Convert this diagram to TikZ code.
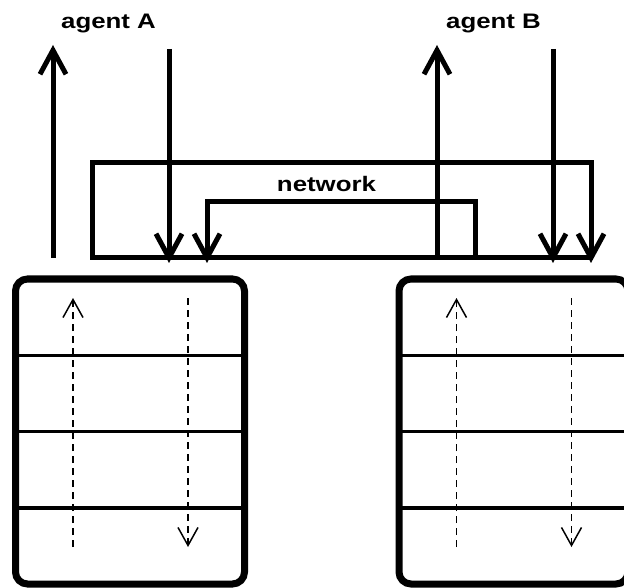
\documentclass[tikz,border=0pt]{standalone}
\usepackage{graphicx}
\usepackage{fontspec}
\setmainfont{Liberation Sans}
\usetikzlibrary{arrows.meta}
\usetikzlibrary{positioning}
\usetikzlibrary{calc}

\newcommand{\stretched}[1]{\scalebox{1.23}[1]{#1}}

\tikzset{
  stack/.style={draw, line width=7pt, rounded corners=12pt, minimum width=229pt,
    minimum height=305pt, inner sep=0pt, outer sep=0pt},
  divider/.style={line width=3.5pt},
  wire/.style={line width=5pt},
  flow/.style={line width=5pt, -{Straight Barb[length=24pt,width=26pt]}},
  trace/.style={line width=1.5pt, dash pattern=on 7pt off 5pt,
    -{Straight Barb[length=18pt,width=20pt]}},
  lbl/.style={font=\bfseries\fontsize{21}{24}\selectfont, inner sep=0pt, anchor=base},
}

\begin{document}
\begin{tikzpicture}[x=1pt, y=-1pt]
     \useasboundingbox (0,0) rectangle (624,588);
     \clip (0,0) rectangle (624,588);

     % nodes
     \node[stack] (boxA) at (130,431.5) {};%
     \node[stack, right=154.5pt of boxA] (boxB) {};%

     \node[lbl] (agentA) at (108.5,29) {\stretched{agent A}};%
     \node[lbl] (agentB) at (493.5,29) {\stretched{agent B}};%
     \node[lbl] (net) at (326.5,191.5) {\stretched{network}};%

     % open ends
     \coordinate (upA1) at (53,258);
     \coordinate (upA2) at (53,45);
     \coordinate (downA1) at (169,49);
     \coordinate (downA2) at (169,263);
     \coordinate (upB1) at (437,258);
     \coordinate (upB2) at (437,45);
     \coordinate (downB1) at (553,49);
     \coordinate (downB2) at (553,263);

     \coordinate (netL) at (92,258);
     \coordinate (netR) at (591,258);
     \coordinate (netM) at (475,258);
     \coordinate (inA) at (207,263);
     \coordinate (inB) at (591,263);

     % edges
     \draw[flow] (upA1) -- (upA2);
     \draw[flow] (downA1) -- (downA2);
     \draw[flow] (upB1) -- (upB2);
     \draw[flow] (downB1) -- (downB2);

     % network
     \draw[flow] (netR) -- (netL) -- ++(0,-95) -| (inB);
     \draw[flow] (netM) -- ++(0,-56) -| (inA);

     % layers
     \foreach \b in {boxA,boxB} {
       \foreach \f in {0.25,0.5,0.75}
         \draw[divider] ($(\b.north west)!\f!(\b.south west)$) -- ($(\b.north east)!\f!(\b.south east)$);
       \coordinate (\b-lo) at ([xshift=57.5pt,yshift=-268pt]\b.north west);
       \coordinate (\b-hi) at ([xshift=57.5pt,yshift=-19pt]\b.north west);
       \coordinate (\b-rhi) at ([xshift=172.5pt,yshift=-19pt]\b.north west);
       \coordinate (\b-rlo) at ([xshift=172.5pt,yshift=-268pt]\b.north west);
       \draw[trace] (\b-lo) -- (\b-hi);
       \draw[trace] (\b-rhi) -- (\b-rlo);
     }
 \end{tikzpicture}
\end{document}
